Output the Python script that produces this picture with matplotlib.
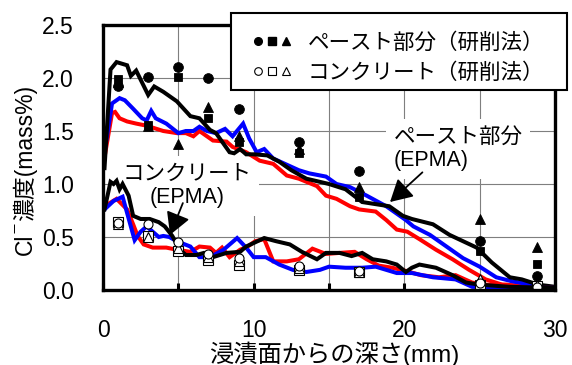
import matplotlib
matplotlib.use("Agg")
import matplotlib.pyplot as plt
from matplotlib.lines import Line2D
from matplotlib.patches import Rectangle
from matplotlib.legend_handler import HandlerTuple
from matplotlib.ticker import MultipleLocator

FAM = ['Liberation Sans', 'DejaVu Sans', 'Noto Sans CJK JP']
plt.rcParams['font.family'] = FAM

# ---------------- data ----------------
# EPMA profiles, paste part
paste_black_x = [0.1, 0.5, 0.9, 1.6, 1.85, 2.2, 3.0, 3.4, 4.0, 4.9, 5.8, 6.4, 7.1, 7.5, 7.9, 8.4, 8.7, 9.1, 9.5, 10.0,
                 10.9, 11.7, 12.5, 13.5, 15.0, 16.1, 17.2, 18.1, 19.0, 19.9, 20.5, 21.9, 23.0, 24.8, 25.8, 27.0, 27.8,
                 28.9, 30.0]
paste_black_y = [1.15, 2.08, 2.15, 2.12, 2.02, 2.07, 1.84, 1.92, 1.87, 1.78, 1.64, 1.62, 1.51, 1.48, 1.40, 1.30, 1.29,
                 1.33, 1.28, 1.28, 1.27, 1.21, 1.13, 1.05, 1.00, 0.95, 0.83, 0.81, 0.79, 0.70, 0.67, 0.62, 0.52, 0.40,
                 0.26, 0.12, 0.10, 0.05, 0.03]
paste_blue_x = [0.1, 0.6, 1.1, 1.45, 2.0, 2.6, 2.9, 3.2, 3.5, 4.2, 5.0, 5.5, 6.0, 6.4, 6.9, 7.5, 8.1, 8.6, 9.3, 9.7,
                10.2, 10.7, 11.3, 13.0, 13.7, 14.8, 15.5, 16.4, 17.5, 18.8, 20.1, 20.6, 21.7, 22.8, 23.9, 25.0, 26.1,
                27.2, 28.5, 30.0]
paste_blue_y = [1.30, 1.76, 1.81, 1.79, 1.71, 1.62, 1.60, 1.69, 1.62, 1.57, 1.48, 1.50, 1.50, 1.54, 1.50, 1.48, 1.52,
                1.45, 1.57, 1.43, 1.30, 1.33, 1.24, 1.13, 1.10, 1.07, 1.00, 0.97, 0.89, 0.79, 0.66, 0.60, 0.52, 0.41,
                0.30, 0.22, 0.12, 0.08, 0.05, 0.02]
paste_red_x = [0.1, 0.6, 0.8, 1.1, 1.6, 2.2, 2.9, 4.0, 4.9, 5.5, 6.0, 6.4, 7.3, 8.2, 8.6, 9.5, 10.4, 11.3, 12.2, 13.0,
               14.2, 14.8, 15.5, 16.4, 17.0, 18.1, 18.8, 19.5, 20.2, 21.0, 22.1, 23.2, 24.3, 25.4, 26.5, 28.0, 30.0]
paste_red_y = [1.25, 1.67, 1.68, 1.62, 1.59, 1.57, 1.55, 1.50, 1.48, 1.48, 1.45, 1.50, 1.41, 1.40, 1.35, 1.30, 1.22,
               1.19, 1.08, 1.05, 0.98, 0.89, 0.86, 0.79, 0.76, 0.74, 0.66, 0.57, 0.55, 0.48, 0.38, 0.29, 0.19, 0.10,
               0.05, 0.04, 0.02]

# EPMA profiles, concrete
conc_black_x = [0.1, 0.5, 0.7, 0.9, 1.1, 1.3, 1.7, 2.0, 2.5, 3.1, 3.7, 4.1, 4.6, 5.1, 5.5, 6.2, 6.7, 7.3, 8.2, 9.1,
                9.5, 10.1, 10.7, 11.5, 12.4, 13.2, 14.2, 14.8, 15.7, 16.5, 17.2, 17.9, 18.8, 19.5, 20.1, 20.5, 21.0,
                22.1, 23.2, 24.1, 25.0, 27.0, 30.0]
conc_black_y = [0.76, 1.02, 1.00, 1.03, 0.95, 1.00, 0.89, 0.70, 0.67, 0.67, 0.64, 0.60, 0.51, 0.38, 0.33, 0.33, 0.35,
                0.31, 0.35, 0.36, 0.41, 0.45, 0.49, 0.46, 0.43, 0.36, 0.29, 0.35, 0.35, 0.32, 0.35, 0.29, 0.27, 0.24,
                0.17, 0.21, 0.24, 0.21, 0.14, 0.07, 0.05, 0.03, 0.02]
conc_blue_x = [0.1, 0.7, 1.3, 2.1, 2.5, 2.9, 3.3, 3.7, 4.0, 4.4, 4.9, 5.8, 6.4, 7.1, 8.0, 8.9, 9.5, 10.0, 10.8, 11.7,
               12.6, 13.5, 14.4, 15.0, 16.1, 17.2, 18.1, 18.8, 19.5, 20.5, 21.9, 23.4, 24.5, 26.0, 30.0]
conc_blue_y = [0.76, 0.84, 0.88, 0.47, 0.55, 0.60, 0.55, 0.50, 0.51, 0.50, 0.46, 0.41, 0.31, 0.31, 0.38, 0.49, 0.40,
               0.31, 0.31, 0.24, 0.19, 0.17, 0.19, 0.22, 0.21, 0.21, 0.22, 0.19, 0.16, 0.16, 0.12, 0.10, 0.03, 0.02,
               0.02]
conc_red_x = [0.1, 0.9, 1.6, 2.0, 2.3, 2.7, 3.3, 4.2, 4.9, 5.8, 6.4, 7.1, 7.5, 7.9, 8.4, 9.1, 9.6, 10.1, 10.7, 11.3,
              12.2, 13.0, 13.9, 14.8, 15.7, 16.7, 17.5, 18.3, 19.2, 20.1, 21.1, 22.3, 23.4, 24.5, 25.4, 26.8, 28.0,
              30.0]
conc_red_y = [0.79, 0.86, 0.76, 0.62, 0.51, 0.43, 0.40, 0.40, 0.38, 0.36, 0.41, 0.40, 0.35, 0.40, 0.31, 0.38, 0.41,
              0.46, 0.48, 0.27, 0.27, 0.29, 0.39, 0.34, 0.35, 0.36, 0.29, 0.23, 0.21, 0.18, 0.14, 0.12, 0.14, 0.07,
              0.05, 0.05, 0.02, 0.02]

# grinding method (研削法) samples
grind_x = [1, 3, 5, 7, 9, 13, 17, 25, 28.8]
paste_circle = [1.92, 2.01, 2.10, 2.00, 1.71, 1.40, 1.12, 0.46, 0.13]
paste_square = [1.99, 1.56, 2.01, 1.62, 1.40, 1.29, 0.88, 0.37, 0.25]
paste_triangle = [1.96, 1.55, 1.38, 1.73, 1.45, 1.33, 0.97, 0.67, 0.41]
conc_circle = [0.63, 0.62, 0.45, 0.34, 0.30, 0.23, 0.18, 0.07, 0.03]
conc_square = [0.64, 0.51, 0.37, 0.28, 0.24, 0.19, 0.17, 0.05, 0.04]
conc_triangle = [0.62, 0.50, 0.40, 0.31, 0.27, 0.21, 0.17, 0.10, 0.05]

legend_labels = ['ペースト部分（研削法）', 'コンクリート（研削法）']
x_ticks = [0, 10, 20, 30]
y_ticks = [0.0, 0.5, 1.0, 1.5, 2.0, 2.5]
y_label_parts = ['Cl', '⁻', '濃度(mass%)']
x_label = '浸漬面からの深さ(mm)'

# ---------------- figure ----------------
W, H = 572, 365
fig = plt.figure(figsize=(W / 100, H / 100), dpi=100)
L, R, T, B = 103, 555, 25, 290
ax = fig.add_axes([L / W, 1 - B / H, (R - L) / W, (B - T) / H])

lw = 2.9
# draw order: red, blue, black on top
for xs, ys, c in [(paste_red_x, paste_red_y, '#ff0000'), (paste_blue_x, paste_blue_y, '#0000ff'),
                  (paste_black_x, paste_black_y, 'k'), (conc_red_x, conc_red_y, '#ff0000'),
                  (conc_blue_x, conc_blue_y, '#0000ff'), (conc_black_x, conc_black_y, 'k')]:
    ax.plot(xs, ys, color=c, lw=lw, solid_joinstyle='miter', zorder=3)

ms = 7
for ys, m, s in [(paste_circle, 'o', ms), (paste_triangle, '^', ms), (paste_square, 's', ms - 0.8)]:
    ax.plot(grind_x, ys, ls='none', marker=m, ms=s, mfc='k', mec='k', mew=0.6, zorder=5)
for ys, m, s in [(conc_square, 's', ms - 0.3), (conc_triangle, '^', ms), (conc_circle, 'o', ms - 0.5)]:
    ax.plot(grind_x, ys, ls='none', marker=m, ms=s, mfc='w', mec='k', mew=0.8, zorder=5)

ax.set_xlim(0, 30)
ax.set_ylim(0, 2.5)
ax.set_xticks(x_ticks)
ax.set_yticks(y_ticks)
ax.set_xticklabels([str(v) for v in x_ticks])
ax.set_yticklabels([f'{v:.1f}' for v in y_ticks])
ax.xaxis.set_minor_locator(MultipleLocator(5))
ax.set_axisbelow(True)
ax.grid(True, which='both', axis='x', color='#7f7f7f', lw=0.8)
ax.grid(True, which='major', axis='y', color='#7f7f7f', lw=0.8)
ax.tick_params(axis='x', which='both', direction='in', length=5, width=2.2, pad=21, labelsize=16.5)
ax.tick_params(axis='y', which='both', direction='in', length=0, pad=21, labelsize=16.5)
for sp in ax.spines.values():
    sp.set_linewidth(2.4)
    sp.set_zorder(6)

# x label
fig.text(334 / W, 1 - 354 / H, x_label, ha='center', va='center', fontsize=17.5, family=FAM)

# y label: built from pieces; the minus is raised as a superscript
renderer = fig.canvas.get_renderer()
base_x = 32.0          # baseline x in pixels
cur_y = 255.0          # start (bottom) of the label in pixels from top
fams = [FAM, ['DejaVu Sans'], FAM]
sizes = [16.5, 16.5, 16.5]
raises = [0.0, 7.0, 0.0]
gaps = [0.5, 0.5, 0.0]
for part, fam, sz, rz, gap in zip(y_label_parts, fams, sizes, raises, gaps):
    t = fig.text((base_x - rz) / W, 1 - cur_y / H, part, rotation=90, rotation_mode='anchor', ha='left',
                 va='baseline', fontsize=sz, family=fam)
    ext = t.get_window_extent(renderer)
    cur_y -= ext.height + gap

# annotations
bbox = dict(boxstyle='square,pad=0.35', fc='white', ec='none')
ax.text(19.3, 1.33, 'ペースト部分\n(EPMA)', ha='left', va='center', fontsize=15.5, linespacing=1.15,
        bbox=bbox, zorder=2, family=FAM)
ax.annotate('', xy=(19.05, 0.83), xytext=(21.2, 1.11),
            arrowprops=dict(arrowstyle='-|>,head_length=0.9,head_width=0.5', mutation_scale=15, lw=1.3,
                            color='k', shrinkA=0, shrinkB=0), zorder=7)
ax.text(5.6, 0.98, 'コンクリート\n(EPMA)', ha='center', va='center', fontsize=15.5, linespacing=1.15,
        bbox=bbox, zorder=2, family=FAM)
ax.annotate('', xy=(4.45, 0.52), xytext=(5.3, 0.82),
            arrowprops=dict(arrowstyle='-|>,head_length=0.9,head_width=0.5', mutation_scale=15, lw=1.3,
                            color='k', shrinkA=0, shrinkB=0), zorder=7)

# legend (figure level, with its own frame rectangle)
frame = Rectangle((231 / W, 1 - 90 / H), 336 / W, 77 / H, transform=fig.transFigure, fc='white', ec='k',
                  lw=1.5, zorder=5)
fig.patches.append(frame)
lms = 5.5
h1 = tuple(Line2D([], [], ls='none', marker=m, ms=lms, mfc='k', mec='k') for m in 'os^')
h2 = tuple(Line2D([], [], ls='none', marker=m, ms=lms, mfc='w', mec='k', mew=0.8) for m in 'os^')
leg = fig.legend([h1, h2], legend_labels, handler_map={tuple: HandlerTuple(ndivide=None, pad=0.0)},
                 loc='upper left', bbox_to_anchor=(231 / W, 1 - 13 / H), bbox_transform=fig.transFigure,
                 frameon=False, borderpad=0.9, labelspacing=0.42, handlelength=2.0, handletextpad=0.65,
                 borderaxespad=0, prop=dict(family=FAM, size=15.5))
leg.set_zorder(6)

fig.savefig('out.png', dpi=100)
